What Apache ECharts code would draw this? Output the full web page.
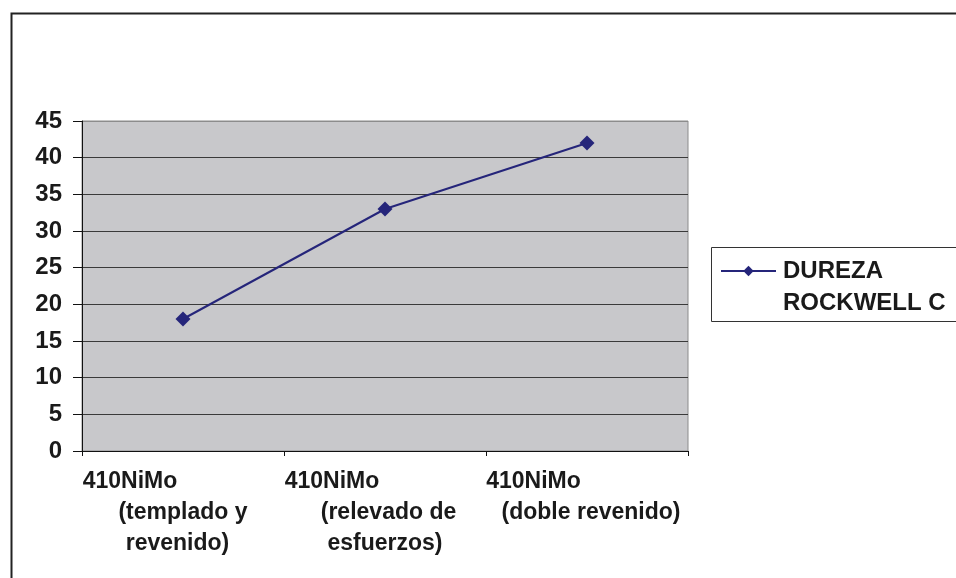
<!DOCTYPE html>
<html>
<head>
<meta charset="utf-8">
<script src="https://cdn.jsdelivr.net/npm/echarts@6/dist/echarts.min.js"></script>
<style>
  html, body { margin: 0; padding: 0; background: #fff; }
  #chart { width: 956px; height: 578px; }
</style>
</head>
<body>
<div id="chart"></div>
<script>
// Hardness (Rockwell C) of 410NiMo under three heat treatments
const categories = [
  '410NiMo (templado y revenido)',
  '410NiMo (relevado de esfuerzos)',
  '410NiMo (doble revenido)'
];
// Each category label split into its printed lines
const categoryLines = [
  ['410NiMo', '(templado y', 'revenido)'],
  ['410NiMo', '(relevado de', 'esfuerzos)'],
  ['410NiMo', '(doble revenido)']
];
const seriesName = 'DUREZA ROCKWELL C';
const legendLines = ['DUREZA', 'ROCKWELL C'];
const hardnessValues = [18, 33, 42];
const yTicks = [0, 5, 10, 15, 20, 25, 30, 35, 40, 45];

const mainFont = '"Liberation Sans", Arial, sans-serif';

// [right, left] padding per label line: nudges each line off its category centre
const lineShift = [
  [[106, 0], [0, 0], [11, 0]],
  [[106, 0], [0, 7], [0, 0]],
  [[107, 0], [0, 8]]
];
const rich = {};
lineShift.forEach((row, i) => {
  row.forEach((p, j) => {
    rich['c' + i + '_' + j] = {
      fontFamily: mainFont, fontWeight: 'bold', fontSize: 23,
      color: '#1a1a1a', lineHeight: 31, padding: [0, p[0], 0, p[1]]
    };
  });
});

const chart = echarts.init(document.getElementById('chart'), null, { renderer: 'canvas' });

const gridColors = yTicks.map((v, i) => i === yTicks.length - 1 ? '#8c8c8c' : '#3a3a3a');

chart.setOption({
  animation: false,
  backgroundColor: '#ffffff',
  textStyle: { fontFamily: mainFont },
  graphic: [
    { // outer frame of the chart
      type: 'rect', left: 9, top: 11, silent: true,
      shape: { width: 1000, height: 1000 },
      style: { fill: 'none', stroke: '#222', lineWidth: 2 }
    },
    { // legend frame
      type: 'rect', left: 711, top: 247, silent: true, z: 0,
      shape: { width: 300, height: 74 },
      style: { fill: '#fff', stroke: '#333', lineWidth: 1 }
    }
  ],
  grid: {
    left: 82, right: 268, top: 121, bottom: 127,
    show: true, backgroundColor: '#c8c8cb', borderColor: '#8c8c8c', borderWidth: 1
  },
  legend: {
    show: true,
    left: 711, top: 227,
    padding: [0, 0, 0, 9],
    itemWidth: 55, itemHeight: 13,
    itemGap: 0,
    orient: 'vertical',
    z: 5,
    // an empty leading line keeps the icon level with the first text line
    formatter: () => '{e| }\n' + legendLines.map(t => '{t|' + t + '}').join('\n'),
    textStyle: {
      rich: {
        e: { fontSize: 24, lineHeight: 32 },
        t: {
          fontFamily: mainFont, fontWeight: 'bold', fontSize: 24, color: '#1a1a1a',
          lineHeight: 32, padding: [0, 0, 0, 2]
        }
      }
    },
    data: [seriesName]
  },
  xAxis: {
    type: 'category',
    data: categories,
    boundaryGap: true,
    axisLine: { show: true, lineStyle: { color: '#111', width: 1 } },
    axisTick: { show: true, length: 5, lineStyle: { color: '#111' } },
    axisLabel: {
      interval: 0,
      margin: 15,
      align: 'center',
      formatter: (value, idx) =>
        categoryLines[idx].map((t, j) => '{c' + idx + '_' + j + '|' + t + '}').join('\n'),
      rich: rich
    },
    splitLine: { show: false }
  },
  yAxis: {
    type: 'value',
    min: 0, max: 45, interval: 5,
    axisLine: { show: true, lineStyle: { color: '#111', width: 1 } },
    axisTick: { show: true, length: 9, lineStyle: { color: '#111' } },
    axisLabel: {
      margin: 20,
      fontFamily: mainFont, fontWeight: 'bold', fontSize: 24, color: '#1a1a1a'
    },
    splitLine: { show: true, lineStyle: { color: gridColors, width: 1 } }
  },
  series: [{
    name: seriesName,
    type: 'line',
    data: hardnessValues,
    symbol: 'diamond',
    symbolSize: 15,
    showSymbol: true,
    lineStyle: { color: '#25257a', width: 2 },
    itemStyle: { color: '#25257a' }
  }]
});
</script>
</body>
</html>
